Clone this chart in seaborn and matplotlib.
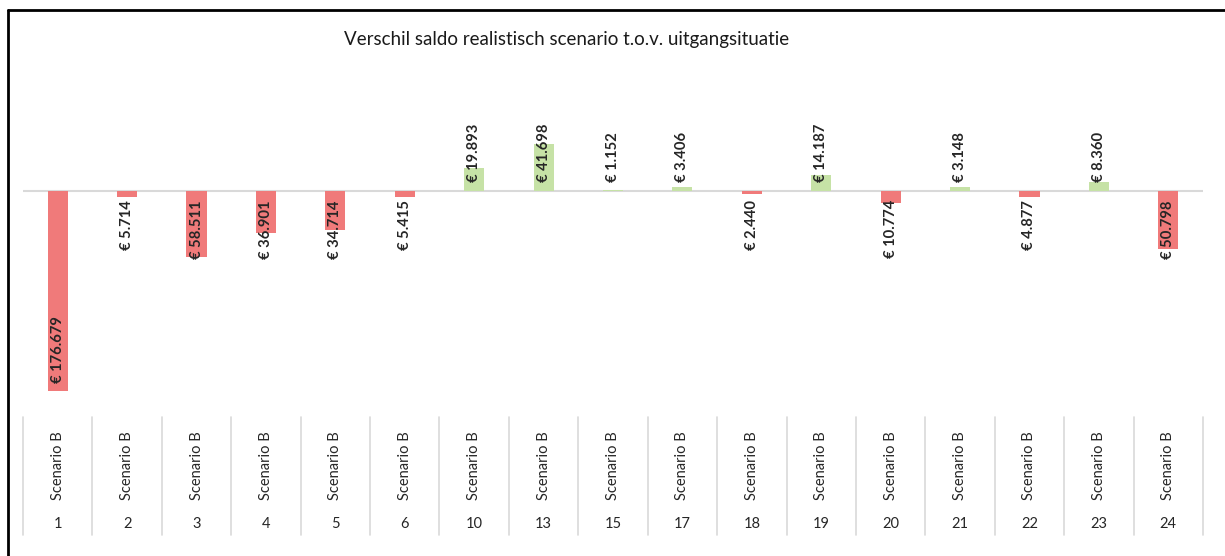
import numpy as np
import pandas as pd
import matplotlib
matplotlib.use("Agg")
import matplotlib.pyplot as plt
import matplotlib.transforms as mtransforms
from matplotlib.lines import Line2D
import seaborn as sns

# data
scenarios = ['1', '2', '3', '4', '5', '6', '10', '13', '15', '17', '18', '19', '20', '21', '22', '23', '24']
group_label = 'Scenario B'
verschil = [-176679, -5714, -58511, -36901, -34714, -5415, 19893, 41698, 1152,
            3406, -2440, 14187, -10774, 3148, -4877, 8360, -50798]
title = 'Verschil saldo realistisch scenario t.o.v. uitgangsituatie'

red = '#f07a7a'
green = '#c6e2a6'

sns.set_theme(style="white")
plt.rcParams['font.family'] = ['Lato', 'DejaVu Sans']

df = pd.DataFrame({'Scenario': scenarios, 'Verschil': verschil})
df['Teken'] = np.where(df['Verschil'] < 0, 'neg', 'pos')

W, H = 1225, 556
fig = plt.figure(figsize=(W / 100, H / 100), dpi=100)
ax = fig.add_axes([23 / W, (H - 400) / H, 1180 / W, 330 / H])

sns.barplot(data=df, x='Scenario', y='Verschil', hue='Teken', order=scenarios,
            palette={'neg': red, 'pos': green}, dodge=False, width=0.29,
            legend=False, ax=ax, saturation=1, linewidth=0)

ax.set_xlim(-0.5, len(scenarios) - 0.5)
ax.set_ylim(-184600, 106900)
ax.axhline(0, color='#d9d9d9', linewidth=1.5, zorder=0.5)
for s in ax.spines.values():
    s.set_visible(False)
ax.set_xticks([])
ax.set_yticks([])
ax.set_xlabel('')
ax.set_ylabel('')


def euro(v):
    return '€ ' + f'{abs(v):,}'.replace(',', '.')


for i, v in enumerate(verschil):
    if v >= 0:
        ax.annotate(euro(v), (i, 0), xytext=(0, 6.5), textcoords='offset points',
                    rotation=90, ha='center', va='bottom', fontsize=10.6, fontweight='bold')
    elif abs(v) > 100000:
        ax.annotate(euro(v), (i, v), xytext=(0, 6), textcoords='offset points',
                    rotation=90, ha='center', va='bottom', fontsize=10.6, fontweight='bold')
    else:
        ax.annotate(euro(v), (i, 0), xytext=(0, -6.5), textcoords='offset points',
                    rotation=90, ha='center', va='top', fontsize=10.6, fontweight='bold')

# category axis (two levels) below the bars
trans = mtransforms.blended_transform_factory(ax.transData, ax.transAxes)
y_top = (400 - 417) / 330
y_bot = (400 - 535) / 330
for k in range(len(scenarios) + 1):
    ax.plot([k - 0.5, k - 0.5], [y_top, y_bot], transform=trans, color='#d9d9d9',
            linewidth=1.2, clip_on=False)
for i, s in enumerate(scenarios):
    ax.text(i, (400 - 466) / 330, group_label, transform=trans, rotation=90,
            ha='center', va='center', fontsize=10.5, color='#262626')
    ax.text(i, (400 - 524) / 330, s, transform=trans, ha='center', va='center',
            fontsize=10.5, color='#262626')

fig.text(567 / W, 1 - 40 / H, title, ha='center', va='center', fontsize=13.5, color='#1a1a1a')

# frame lines of the screenshot
fig.add_artist(Line2D([7.5 / W, 7.5 / W], [0, 1 - 9.5 / H], color='black', linewidth=2))
fig.add_artist(Line2D([7.5 / W, 1], [1 - 9.5 / H, 1 - 9.5 / H], color='black', linewidth=2))

fig.savefig('out.png', dpi=100)
